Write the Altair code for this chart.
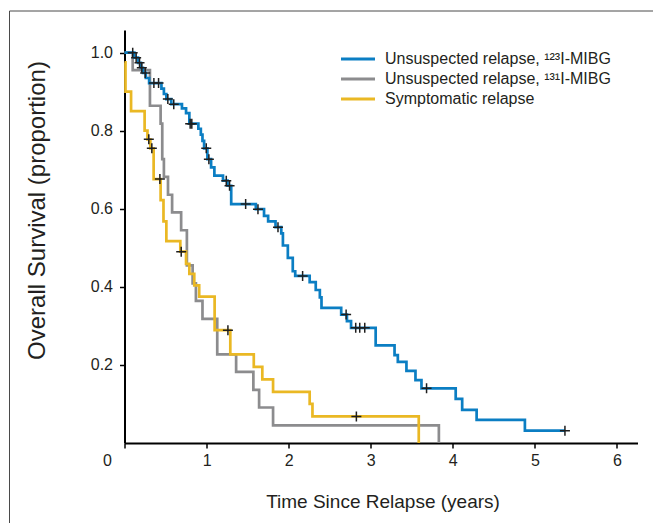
import altair as alt
import pandas as pd

# ---------------- data ----------------
series_names = [
    "Unsuspected relapse, \u00b9\u00b2\u00b3I-MIBG",
    "Unsuspected relapse, \u00b9\u00b3\u00b9I-MIBG",
    "Symptomatic relapse",
]
series_colors = ["#0b7ec3", "#8c8c8e", "#eab824"]

# Kaplan-Meier step curves: time (years) where a level starts, and the level
blue_t = [0, 0.12, 0.165, 0.20, 0.225, 0.26, 0.30, 0.45, 0.48, 0.51, 0.57, 0.70, 0.75, 0.79,
          0.90, 0.93, 0.95, 0.97, 1.01, 1.055, 1.095, 1.20, 1.255, 1.30, 1.60, 1.70, 1.75, 1.84,
          1.91, 1.93, 1.99, 2.05, 2.08, 2.256, 2.33, 2.38, 2.40, 2.64, 2.71, 2.76, 3.06, 3.29,
          3.33, 3.435, 3.545, 3.618, 4.035, 4.114, 4.29, 4.878, 5.366]
blue_s = [1.0, 0.987, 0.974, 0.961, 0.948, 0.935, 0.922, 0.908, 0.894, 0.881, 0.868, 0.857, 0.845, 0.818,
          0.805, 0.79, 0.774, 0.755, 0.727, 0.706, 0.685, 0.672, 0.659, 0.612, 0.599, 0.582, 0.568, 0.553,
          0.537, 0.506, 0.474, 0.44, 0.428, 0.412, 0.392, 0.373, 0.346, 0.329, 0.312, 0.295, 0.25, 0.225,
          0.208, 0.185, 0.161, 0.14, 0.113, 0.085, 0.059, 0.0315, 0.0315]
blue_censor = [0.10, 0.142, 0.183, 0.211, 0.252, 0.358, 0.415, 0.528, 0.60, 0.80, 0.82, 0.996, 1.028,
               1.24, 1.28, 1.476, 1.626, 1.87, 2.17, 2.70, 2.817, 2.866, 2.927, 3.68, 5.366]

gray_t = [0, 0.10, 0.31, 0.44, 0.46, 0.48, 0.53, 0.58, 0.69, 0.76, 0.83, 0.87, 0.95, 1.13, 1.36,
          1.57, 1.64, 1.81, 3.83]
gray_s = [1.0, 0.955, 0.864, 0.818, 0.727, 0.682, 0.636, 0.591, 0.545, 0.455, 0.409, 0.364, 0.318,
          0.227, 0.182, 0.136, 0.091, 0.045, 0.0]
gray_censor = []

yellow_t = [0, 0.012, 0.08, 0.245, 0.28, 0.315, 0.355, 0.44, 0.475, 0.51, 0.68, 0.75, 0.79, 0.85,
            0.91, 1.098, 1.289, 1.575, 1.679, 1.81, 2.256, 2.29, 3.585]
yellow_s = [0.975, 0.90, 0.85, 0.80, 0.778, 0.755, 0.676, 0.622, 0.568, 0.517, 0.49, 0.459, 0.433,
            0.404, 0.375, 0.289, 0.227, 0.195, 0.163, 0.131, 0.100, 0.068, 0.0]
yellow_censor = [0.296, 0.333, 0.431, 0.691, 1.26, 2.825]

x_ticks = [0, 1, 2, 3, 4, 5, 6]
y_ticks = [0.2, 0.4, 0.6, 0.8, 1.0]

# ---------------- build tables ----------------
curve_sets = {
    series_names[0]: (blue_t, blue_s, blue_censor),
    series_names[1]: (gray_t, gray_s, gray_censor),
    series_names[2]: (yellow_t, yellow_s, yellow_censor),
}
draw_order = [series_names[1], series_names[2], series_names[0]]


def level_at(ts, ss, t):
    v = ss[0]
    for tt, s in zip(ts, ss):
        if tt <= t:
            v = s
    return v


rows, marks = [], []
for name in draw_order:
    ts, ss, cs = curve_sets[name]
    for i, (t, s) in enumerate(zip(ts, ss)):
        rows.append({"series": name, "t": t, "s": s, "i": i})
    for c in cs:
        marks.append({"series": name, "t": c, "s": level_at(ts, ss, c)})
curves = pd.DataFrame(rows)
censored = pd.DataFrame(marks)

FONT = "Liberation Sans"
INK = "#231f20"

xscale = alt.Scale(domain=[0, 6.25], nice=False, zero=False)
yscale = alt.Scale(domain=[0, 1.058], nice=False, zero=False)

x_axis = alt.Axis(
    values=x_ticks, format="d", title="Time Since Relapse (years)",
    labelOffset={"condition": {"test": "datum.value === 0", "value": -22}, "value": 0},
    labelPadding=4, titleX=258, titleY=64, titleBaseline="alphabetic", titleAnchor="middle",
    titleFont=FONT, titleFontSize=19,
)
y_axis = alt.Axis(
    values=y_ticks, format=".1f", title="Overall Survival (proportion)",
    labelPadding=7, titleX=-80, titleY=180, titleAngle=270, titleBaseline="alphabetic",
    titleAlign="center", titleFont=FONT, titleFontSize=24,
)

frame = alt.Chart(pd.DataFrame({"k": [0]})).mark_rect(
    fill="white", fillOpacity=0, stroke="#4a4a4a", strokeWidth=1
).encode(x=alt.value(-115), x2=alt.value(700), y=alt.value(-19), y2=alt.value(600))

lines = alt.Chart(curves).mark_line(interpolate="step-after", strokeWidth=2.7).encode(
    x=alt.X("t:Q", scale=xscale, axis=x_axis),
    y=alt.Y("s:Q", scale=yscale, axis=y_axis),
    color=alt.Color(
        "series:N",
        scale=alt.Scale(domain=series_names, range=series_colors),
        legend=alt.Legend(
            title=None, orient="none", legendX=222, legendY=17.5,
            symbolType="M-1.7,0L1.7,0", symbolSize=400, symbolStrokeWidth=3,
            labelFont=FONT, labelFontSize=16, labelColor=INK, labelOffset=15.5,
            labelLimit=0, rowPadding=0, padding=0,
        ),
    ),
    detail="series:N",
    order="i:Q",
)

plus = alt.Chart(censored).mark_point(
    shape="M-1,0L1,0M0,-1L0,1", filled=False, size=100, strokeWidth=1.5,
    color="#1e1e1e", opacity=1,
).encode(x=alt.X("t:Q", scale=xscale), y=alt.Y("s:Q", scale=yscale))

chart = alt.layer(frame, lines, plus).properties(
    width=513, height=413,
    padding={"left": 116.5, "top": 22, "right": 15.5, "bottom": 80},
    autosize=alt.AutoSizeParams(type="none"),
).configure_view(stroke=None).configure_axis(
    grid=False, domainColor="black", domainWidth=2, tickColor="black", tickWidth=1.5,
    tickSize=5, labelFont=FONT, labelFontSize=16, labelColor=INK,
    titleColor=INK, titleFontWeight="normal",
)

chart.save("out.html", embed_options={"renderer": "svg", "actions": False})
